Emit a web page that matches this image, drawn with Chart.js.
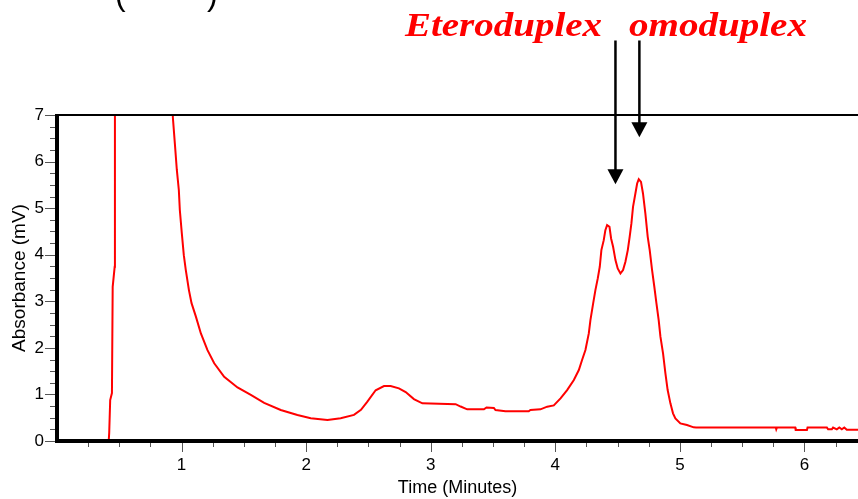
<!DOCTYPE html>
<html>
<head>
<meta charset="utf-8">
<script src="https://cdn.jsdelivr.net/npm/chart.js@4/dist/chart.umd.min.js"></script>
<style>
html,body{margin:0;padding:0;background:#fff;overflow:hidden}
#wrap{width:858px;height:499px;position:relative}
</style>
</head>
<body>
<div id="wrap"><canvas id="c" width="858" height="499"></canvas></div>
<script>
// ---- data ----
const timeMinutes = [
  0.415,0.419,0.427,0.441,0.447,0.463,0.465,0.47,0.92,
  0.930,0.946,0.962,0.978,0.986,1.002,1.018,1.034,1.059,1.080,1.115,1.155,1.208,1.262,1.342,1.449,1.556,1.663,1.796,1.93,
  2.037,2.171,2.277,2.384,2.44,2.49,2.558,2.625,2.678,2.745,2.799,2.865,2.933,
  3.2,3.24,3.293,3.427,3.448,3.507,3.52,3.6,3.787,3.8,3.881,3.935,3.988,
  4.042,4.095,4.149,4.189,4.215,4.242,4.269,4.282,4.304,4.322,4.341,4.357,4.370,4.389,4.402,4.416,4.435,4.448,4.464,4.483,4.501,4.523,4.544,4.563,4.582,4.597,
  4.611,4.624,4.643,4.657,4.670,4.688,4.704,4.723,4.742,4.758,4.777,4.795,4.812,4.830,4.844,4.865,4.884,4.902,4.924,4.945,4.964,
  5.004,5.057,5.111,5.13,5.77,5.774,5.78,5.926,5.93,6.02,6.025,6.18,6.19,6.22,6.23,6.26,6.28,6.30,6.32,6.34,6.45
];
const absorbanceMV = [
  0,0.17,0.88,1.03,3.31,3.74,7.2,9.5,9.5,
  6.95,6.39,5.82,5.39,4.96,4.46,3.99,3.67,3.24,2.96,2.67,2.31,1.95,1.67,1.38,1.15,0.99,0.82,0.665,0.56,
  0.49,0.45,0.49,0.56,0.67,0.84,1.09,1.18,1.18,1.13,1.05,0.90,0.81,
  0.79,0.74,0.68,0.68,0.72,0.71,0.665,0.64,0.64,0.665,0.68,0.737,0.765,
  0.916,1.094,1.309,1.524,1.738,1.953,2.31,2.597,2.954,3.24,3.491,3.741,4.099,4.313,4.528,4.635,4.6,4.349,4.17,3.884,3.705,3.598,3.67,3.848,4.099,4.385,
  4.671,5.028,5.315,5.529,5.62,5.565,5.315,4.886,4.385,4.099,3.67,3.312,2.954,2.597,2.239,1.881,1.452,1.094,0.808,0.594,0.486,
  0.379,0.343,0.293,0.29,0.29,0.25,0.29,0.29,0.235,0.235,0.29,0.29,0.25,0.25,0.29,0.25,0.29,0.25,0.29,0.24,0.24
];
const xTickValues = [1, 2, 3, 4, 5, 6];
const yTickValues = [0, 1, 2, 3, 4, 5, 6, 7];
const peakLabels = ['Eteroduplex', 'omoduplex'];
const arrowTimes = [4.483, 4.675];
const arrowTipValues = [5.515, 6.52];
const arrowTailValue = 8.6;
const xTitle = 'Time (Minutes)';
const yTitle = 'Absorbance (mV)';

const points = timeMinutes.map((t, i) => ({ x: t, y: absorbanceMV[i] }));

const decorPlugin = {
  id: 'decor',
  afterDraw(chart) {
    const ctx = chart.ctx;
    const ca = chart.chartArea;
    const xs = chart.scales.x, ys = chart.scales.y;
    const W = chart.width;
    ctx.save();
    // minor + major ticks (y)
    ctx.strokeStyle = '#555';
    ctx.lineWidth = 1;
    for (let v = 0; v <= 7.0001; v += 0.25) {
      const y = Math.round(ys.getPixelForValue(v)) + 0.5;
      const major = Math.abs(v - Math.round(v)) < 1e-6;
      ctx.beginPath();
      ctx.moveTo(ca.left - (major ? 12 : 7), y);
      ctx.lineTo(ca.left, y);
      ctx.stroke();
    }
    // ticks (x)
    for (let v = 0.25; v <= xs.max; v += 0.25) {
      const x = Math.round(xs.getPixelForValue(v)) + 0.5;
      const major = Math.abs(v - Math.round(v)) < 1e-6;
      ctx.beginPath();
      ctx.moveTo(x, ca.bottom);
      ctx.lineTo(x, ca.bottom + (major ? 11 : 6));
      ctx.stroke();
    }
    // axis lines
    ctx.strokeStyle = '#000';
    ctx.lineWidth = 2;
    ctx.beginPath();
    ctx.moveTo(ca.left, ca.top);
    ctx.lineTo(W, ca.top);
    ctx.stroke();
    ctx.lineWidth = 4;
    ctx.beginPath();
    ctx.moveTo(ca.left, ca.top - 1);
    ctx.lineTo(ca.left, ca.bottom + 2);
    ctx.stroke();
    ctx.beginPath();
    ctx.moveTo(ca.left - 2, ca.bottom);
    ctx.lineTo(W, ca.bottom);
    ctx.stroke();

    // arrows
    ctx.fillStyle = '#000';
    ctx.strokeStyle = '#000';
    ctx.lineWidth = 2.5;
    arrowTimes.forEach((t, i) => {
      const x = xs.getPixelForValue(t);
      const y0 = ys.getPixelForValue(arrowTailValue);
      const y1 = ys.getPixelForValue(arrowTipValues[i]);
      ctx.beginPath();
      ctx.moveTo(x, y0);
      ctx.lineTo(x, y1 - 12);
      ctx.stroke();
      ctx.beginPath();
      ctx.moveTo(x - 8, y1 - 15);
      ctx.lineTo(x + 8, y1 - 15);
      ctx.lineTo(x, y1);
      ctx.closePath();
      ctx.fill();
    });

    // red peak labels
    ctx.fillStyle = '#ff0000';
    ctx.textBaseline = 'alphabetic';
    ctx.textAlign = 'left';
    ctx.font = 'italic bold 33px "Liberation Serif", serif';
    const labelBoxes = [[405, 197], [629, 178]];
    peakLabels.forEach((txt, i) => {
      const w = ctx.measureText(txt).width;
      ctx.save();
      ctx.translate(labelBoxes[i][0], 36);
      ctx.scale(labelBoxes[i][1] / w, 1);
      ctx.fillText(txt, 0, 0);
      ctx.restore();
    });

    // cut-off heading brackets at the very top
    ctx.fillStyle = '#000';
    ctx.font = '32px "Liberation Sans", sans-serif';
    ctx.fillText('(', 115, 5);
    ctx.fillText(')', 207, 5);
    ctx.restore();
  }
};

new Chart(document.getElementById('c'), {
  type: 'line',
  data: {
    datasets: [{
      data: points,
      borderColor: '#ff0000',
      borderWidth: 2,
      pointRadius: 0,
      tension: 0,
      fill: false
    }]
  },
  options: {
    responsive: false,
    animation: false,
    devicePixelRatio: 1,
    layout: { padding: { top: 115, left: 0, right: 0, bottom: 0 } },
    plugins: { legend: { display: false }, tooltip: { enabled: false }, title: { display: false } },
    scales: {
      x: {
        type: 'linear',
        min: 0,
        max: 6.43,
        grid: { display: false, drawTicks: false },
        border: { display: false },
        ticks: {
          stepSize: 1,
          includeBounds: false,
          autoSkip: false,
          maxRotation: 0,
          padding: 14,
          color: '#000',
          font: { family: '"Liberation Sans", Arial, sans-serif', size: 17 },
          callback: (v) => xTickValues.includes(v) ? String(v) : ''
        },
        title: {
          display: true,
          text: xTitle,
          color: '#000',
          padding: { top: 0, bottom: 0 },
          font: { family: '"Liberation Sans", Arial, sans-serif', size: 18 }
        },
        afterFit: (s) => { s.height = 58; }
      },
      y: {
        min: 0,
        max: 7,
        grid: { display: false, drawTicks: false },
        border: { display: false },
        ticks: {
          stepSize: 1,
          padding: 13,
          color: '#000',
          font: { family: '"Liberation Sans", Arial, sans-serif', size: 17 },
          callback: (v) => yTickValues.includes(v) ? String(v) : ''
        },
        title: {
          display: true,
          text: yTitle,
          color: '#000',
          padding: { top: 8, bottom: 0 },
          font: { family: '"Liberation Sans", Arial, sans-serif', size: 19 }
        },
        afterFit: (s) => { s.width = 57; }
      }
    }
  },
  plugins: [decorPlugin]
});
</script>
</body>
</html>
